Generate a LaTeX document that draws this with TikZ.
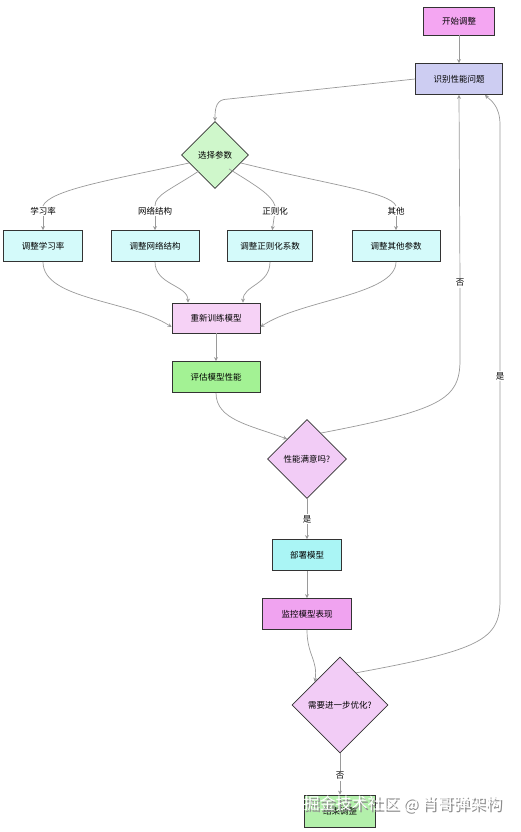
\documentclass[tikz,border=0pt]{standalone}
\usepackage{fontspec}
\newfontfamily\cjk{Noto Sans CJK SC}
\usetikzlibrary{shapes.geometric,arrows.meta}
\definecolor{cStart}{HTML}{F4A6F2}
\definecolor{cIdent}{HTML}{CDCDF2}
\definecolor{cChoose}{HTML}{CFF7CB}
\definecolor{cAdj}{HTML}{D4FAFA}
\definecolor{cRetrain}{HTML}{F6D2F6}
\definecolor{cEval}{HTML}{A3F294}
\definecolor{cDec}{HTML}{F2CCF6}
\definecolor{cDeploy}{HTML}{AAF5F5}
\definecolor{cMon}{HTML}{F0A3F0}
\definecolor{cEnd}{HTML}{B3F0AB}
\definecolor{cLine}{HTML}{9A9A9A}
\definecolor{cBorder}{HTML}{333333}
\tikzset{
  box/.style={draw=cBorder, line width=0.8pt, rectangle, minimum height=31pt, font=\cjk\fontsize{8.5}{10}\selectfont, inner sep=0pt},
  dia/.style={draw=cBorder, line width=0.8pt, diamond, aspect=1, inner sep=0pt, font=\cjk\fontsize{8.5}{10}\selectfont},
  conn/.style={draw=cLine, line width=0.7pt, -{Stealth[length=4pt,width=4pt]}},
  plain/.style={draw=cLine, line width=0.7pt},
  elabel/.style={fill=white, inner sep=1pt, font=\cjk\fontsize{8.5}{10}\selectfont, text=black}
}
\begin{document}
\begin{tikzpicture}[x=1pt,y=-1pt]
\fill[white] (0,0) rectangle (520,832);
\useasboundingbox (0,0) rectangle (520,832);

\node[box, fill=cStart, minimum width=71pt, minimum height=28pt] (start) at (459,21) {开始调整};
\node[box, fill=cIdent, minimum width=87pt] (ident) at (459,79) {识别性能问题};
\node[dia, fill=cChoose, minimum width=67pt, minimum height=67pt] (choose) at (215,155) {选择参数};

\node[box, fill=cAdj, minimum width=79pt] (lr) at (43,246) {调整学习率};
\node[box, fill=cAdj, minimum width=88pt] (nw) at (155,246) {调整网络结构};
\node[box, fill=cAdj, minimum width=85pt] (reg) at (270,246) {调整正则化系数};
\node[box, fill=cAdj, minimum width=88pt] (oth) at (396,246) {调整其他参数};

\node[box, fill=cRetrain, minimum width=88pt, minimum height=30pt] (retrain) at (216,318) {重新训练模型};
\node[box, fill=cEval, minimum width=88pt] (eval) at (216,377) {评估模型性能};
\node[dia, fill=cDec, minimum width=79pt, minimum height=79pt] (sat) at (307,459) {性能满意吗?};
\node[box, fill=cDeploy, minimum width=69pt] (deploy) at (307,555) {部署模型};
\node[box, fill=cMon, minimum width=89pt] (mon) at (307,614) {监控模型表现};
\node[dia, fill=cDec, minimum width=96pt, minimum height=96pt] (opt) at (340,705) {需要进一步优化?};
\node[box, fill=cEnd, minimum width=71pt, minimum height=32pt] (end) at (340,811) {结束调整};

% labels
\node[elabel] (l1) at (43,211) {学习率};
\node[elabel] (l2) at (155,211) {网络结构};
\node[elabel] (l3) at (275,211) {正则化};
\node[elabel] (l4) at (396,211) {其他};
\node[elabel] (lyes1) at (307,519) {是};
\node[elabel] (lno1) at (460,283) {否};
\node[elabel] (lyes2) at (500,376) {是};
\node[elabel] (lno2) at (340,776) {否};

\coordinate (a1) at (224,99.5);
\draw[conn] (start) -- (ident);
\draw[conn] (ident.west) -- (a1) to[out=190,in=90] (choose.north);

\draw[plain] (choose.west) ++(8,8) .. controls (110,180) and (50,190) .. (l1.north);
\draw[conn] (l1) -- (lr);
\draw[plain] (choose.south) ++(-16,-18) .. controls (170,190) and (155,195) .. (l2.north);
\draw[conn] (l2) -- (nw);
\draw[plain] (choose.south) ++(14,-20) .. controls (255,185) and (272,195) .. (l3.north);
\draw[conn] (l3) -- (reg);
\draw[plain] (choose.east) ++(-8,8) .. controls (330,185) and (390,192) .. (l4.north);
\draw[conn] (l4) -- (oth);

\draw[conn] (lr.south) .. controls (43,300) and (130,300) .. ([yshift=-9pt]retrain.west);
\draw[conn] (nw.south) .. controls (155,285) and (188,285) .. ([xshift=-28pt]retrain.north);
\draw[conn] (reg.south) .. controls (270,285) and (243,285) .. ([xshift=27pt]retrain.north);
\draw[conn] (oth.south) .. controls (396,295) and (300,300) .. ([yshift=-9pt]retrain.east);

\draw[conn] (retrain) -- (eval);
\draw[conn] (eval.south) .. controls (216,420) and (250,425) .. (sat.north west);
\draw[plain] (sat) -- (lyes1);
\draw[conn] (lyes1) -- (deploy);
\draw[plain] (sat.north east) ++(-6,-6) .. controls (440,410) and (460,400) .. (460,360) -- (lno1);
\draw[conn] (lno1) -- (ident.south);

\draw[conn] (deploy) -- (mon);
\draw[conn] (mon.south) .. controls (307,655) and (318,660) .. ([xshift=-1pt,yshift=-1pt]opt.north west);
\draw[plain] (opt.north east) ++(-8,-8) .. controls (480,650) and (500,640) .. (500,600) -- (lyes2);
\draw[conn] (lyes2) -- (500,125) .. controls (500,105) and (490,100) .. ([xshift=26pt]ident.south);
\draw[plain] (opt) -- (lno2);
\draw[conn] (lno2) -- (end);

% watermark
\node[anchor=west, font=\cjk\fontsize{16}{18}\selectfont, text=black!45] at (301.6,805.6) {掘金技术社区 @ 肖哥弹架构};
\node[anchor=west, font=\cjk\fontsize{16}{18}\selectfont, text=white] (wm) at (300,804) {掘金技术社区 @ 肖哥弹架构};
\end{tikzpicture}
\end{document}
